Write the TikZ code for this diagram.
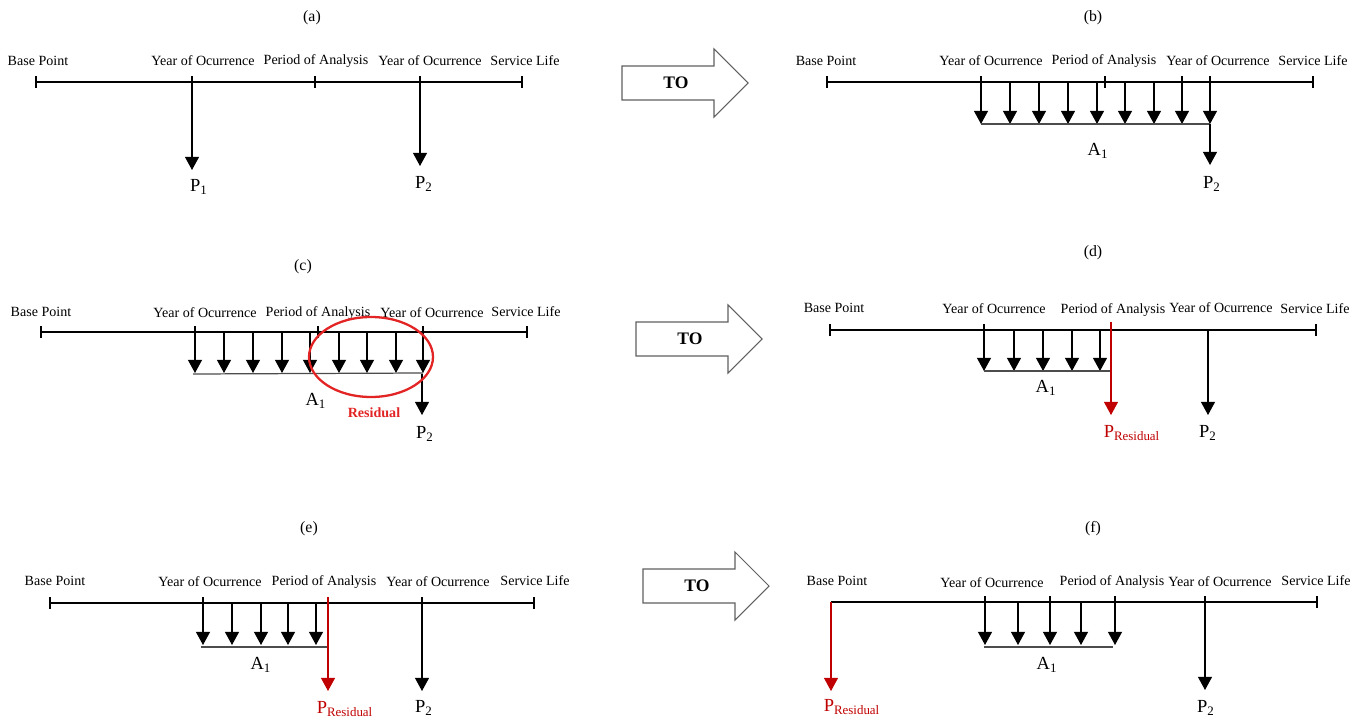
\documentclass[tikz,border=0pt]{standalone}
\usepackage{fontspec}
\setmainfont{Liberation Serif}
\usetikzlibrary{arrows.meta}
\definecolor{resred}{RGB}{192,0,0}
\definecolor{ringred}{RGB}{226,36,36}
\definecolor{blockgray}{RGB}{96,96,96}

% a downward cash-flow arrow between two named coordinates
\newcommand\dropflow[5][flow]{%
  \coordinate (#2s) at (#3,#4);
  \coordinate (#2t) at (#3,#5);
  \draw[#1] (#2s) -- (#2t);}
% a short tick across a time line
\newcommand\tickmark[3]{%
  \coordinate (#1u) at (#2,#3-6);
  \coordinate (#1d) at (#2,#3+6);
  \draw[axis] (#1u) -- (#1d);}
% the "TO" block arrow, left end (#1,#2)
\newcommand\toarrow[3]{%
  \draw[blockarrow] (#2,#3-17) -- (#2+92,#3-17) -- (#2+92,#3-34) -- (#2+126,#3)
    -- (#2+92,#3+34) -- (#2+92,#3+17) -- (#2,#3+17) -- cycle;
  \node[tolbl] (#1) at (#2+54,#3) {TO};}

\begin{document}
\begin{tikzpicture}[x=0.02cm,y=-0.02cm,
  lbl/.style={font=\fontsize{8}{9}\selectfont, inner sep=0pt},
  ttl/.style={font=\fontsize{9}{10}\selectfont, inner sep=0pt},
  pay/.style={font=\fontsize{10.5}{12}\selectfont, inner sep=0pt},
  respay/.style={pay, text=resred},
  tolbl/.style={font=\fontsize{10}{12}\selectfont\bfseries, inner sep=0pt},
  axis/.style={line width=0.6pt, draw=black},
  bar/.style={line width=0.7pt, draw=black!70},
  flow/.style={line width=0.6pt, draw=black, -{Triangle[width=8pt,length=7.5pt]}},
  resflow/.style={flow, draw=resred},
  blockarrow/.style={line width=0.6pt, draw=blockgray, fill=white, line join=miter},
  ring/.style={line width=1.3pt, draw=ringred},
  ringlbl/.style={font=\fontsize{8}{9}\selectfont\bfseries, text=ringred, inner sep=0pt}]
\useasboundingbox (0,0) rectangle (1359,720);

% ---------------- (a) ----------------
\node[ttl] (ta) at (312,18) {(a)};
\node[lbl] (a-bp) at (38,61) {Base Point};
\node[lbl] (a-y1) at (203,61) {Year of Ocurrence};
\node[lbl] (a-pa) at (316,61) {Period of Analysis};
\node[lbl] (a-y2) at (430,61) {Year of Ocurrence};
\node[lbl] (a-sl) at (525,61) {Service Life};
\coordinate (a-L) at (36,82);
\coordinate (a-R) at (522,82);
\draw[axis] (a-L) -- (a-R);
\tickmark{a-k1}{36}{82}
\tickmark{a-k2}{315}{82}
\tickmark{a-k3}{522}{82}
\dropflow{a-p1}{192}{76}{170}
\dropflow{a-p2}{420}{76}{166}
\node[pay] (a-P1) at (199,187) {P\textsubscript{1}};
\node[pay] (a-P2) at (424,184) {P\textsubscript{2}};

\toarrow{to1}{622}{83}

% ---------------- (b) ----------------
\node[ttl] (tb) at (1093,18) {(b)};
\node[lbl] (b-bp) at (826,61) {Base Point};
\node[lbl] (b-y1) at (991,61) {Year of Ocurrence};
\node[lbl] (b-pa) at (1104,61) {Period of Analysis};
\node[lbl] (b-y2) at (1218,61) {Year of Ocurrence};
\node[lbl] (b-sl) at (1313,61) {Service Life};
\coordinate (b-L) at (827,82);
\coordinate (b-R) at (1313,82);
\draw[axis] (b-L) -- (b-R);
\tickmark{b-k1}{827}{82}
\tickmark{b-k2}{1105}{82}
\tickmark{b-k3}{1313}{82}
\dropflow{b-f1}{981}{76}{124}
\dropflow{b-f2}{1010}{82}{124}
\dropflow{b-f3}{1039}{82}{124}
\dropflow{b-f4}{1068}{82}{124}
\dropflow{b-f5}{1097}{82}{124}
\dropflow{b-f6}{1125}{82}{124}
\dropflow{b-f7}{1154}{82}{124}
\dropflow{b-f8}{1182}{76}{124}
\dropflow{b-f9}{1210}{76}{124}
\draw[bar] (b-f1t) -- (b-f9t);
\dropflow{b-p2}{1210}{124}{165}
\node[pay] (b-A1) at (1098,151) {A\textsubscript{1}};
\node[pay] (b-P2) at (1212,184) {P\textsubscript{2}};

% ---------------- (c) ----------------
\node[ttl] (tc) at (303,267) {(c)};
\node[lbl] (c-bp) at (41,312) {Base Point};
\node[lbl] (c-y1) at (205,313) {Year of Ocurrence};
\node[lbl] (c-pa) at (318,313) {Period of Analysis};
\node[lbl] (c-y2) at (432,313) {Year of Ocurrence};
\node[lbl] (c-sl) at (526,312) {Service Life};
\coordinate (c-L) at (41,332);
\coordinate (c-R) at (527,332);
\draw[axis] (c-L) -- (c-R);
\tickmark{c-k1}{41}{332}
\tickmark{c-k2}{318}{332}
\tickmark{c-k3}{527}{332}
\dropflow{c-f1}{195}{326}{373}
\dropflow{c-f2}{224}{332}{373}
\dropflow{c-f3}{253}{332}{373}
\dropflow{c-f4}{282}{332}{373}
\dropflow{c-f5}{310}{332}{373}
\dropflow{c-f6}{339}{332}{373}
\dropflow{c-f7}{367}{332}{373}
\dropflow{c-f8}{396}{332}{373}
\dropflow{c-f9}{423}{326}{373}
\draw[bar] (193,374) -- (c-f9t);
\dropflow{c-p2}{422}{374}{415}
\draw[ring] (371,357) ellipse [x radius=62, y radius=40];
\node[ringlbl] (c-res) at (374,413) {Residual};
\node[pay] (c-A1) at (316,401) {A\textsubscript{1}};
\node[pay] (c-P2) at (425,434) {P\textsubscript{2}};

\toarrow{to2}{636}{339}

% ---------------- (d) ----------------
\node[ttl] (td) at (1093,253) {(d)};
\node[lbl] (d-bp) at (834,308) {Base Point};
\node[lbl] (d-y1) at (994,309) {Year of Ocurrence};
\node[lbl] (d-pa) at (1113,310) {Period of Analysis};
\node[lbl] (d-y2) at (1221,308) {Year of Ocurrence};
\node[lbl] (d-sl) at (1315,309) {Service Life};
\coordinate (d-L) at (830,330);
\coordinate (d-R) at (1316,330);
\draw[axis] (d-L) -- (d-R);
\tickmark{d-k1}{830}{330}
\tickmark{d-k2}{1316}{330}
\dropflow{d-f1}{984}{324}{371}
\dropflow{d-f2}{1014}{330}{371}
\dropflow{d-f3}{1043}{330}{371}
\dropflow{d-f4}{1072}{330}{371}
\dropflow{d-f5}{1100}{330}{371}
\draw[bar] (d-f1t) -- (1111,371);
\dropflow[resflow]{d-pr}{1111}{322}{415}
\dropflow{d-p2}{1208}{330}{415}
\node[pay] (d-A1) at (1046,388) {A\textsubscript{1}};
\node[respay] (d-PR) at (1132,433) {P\textsubscript{Residual}};
\node[pay] (d-P2) at (1208,433) {P\textsubscript{2}};

% ---------------- (e) ----------------
\node[ttl] (te) at (309,529) {(e)};
\node[lbl] (e-bp) at (55,581) {Base Point};
\node[lbl] (e-y1) at (210,582) {Year of Ocurrence};
\node[lbl] (e-pa) at (324,582) {Period of Analysis};
\node[lbl] (e-y2) at (438,582) {Year of Ocurrence};
\node[lbl] (e-sl) at (535,581) {Service Life};
\coordinate (e-L) at (50,603);
\coordinate (e-R) at (534,603);
\draw[axis] (e-L) -- (e-R);
\tickmark{e-k1}{50}{603}
\tickmark{e-k2}{534}{603}
\dropflow{e-f1}{203}{597}{645}
\dropflow{e-f2}{232}{603}{645}
\dropflow{e-f3}{261}{603}{645}
\dropflow{e-f4}{288}{603}{645}
\dropflow{e-f5}{316}{603}{645}
\draw[bar] (201,647) -- (328,647);
\dropflow[resflow]{e-pr}{328}{597}{691}
\dropflow{e-p2}{422}{597}{691}
\node[pay] (e-A1) at (261,665) {A\textsubscript{1}};
\node[respay] (e-PR) at (345,709) {P\textsubscript{Residual}};
\node[pay] (e-P2) at (424,708) {P\textsubscript{2}};

\toarrow{to3}{643}{586}

% ---------------- (f) ----------------
\node[ttl] (tf) at (1093,529) {(f)};
\node[lbl] (f-bp) at (837,581) {Base Point};
\node[lbl] (f-y1) at (992,583) {Year of Ocurrence};
\node[lbl] (f-pa) at (1112,582) {Period of Analysis};
\node[lbl] (f-y2) at (1220,582) {Year of Ocurrence};
\node[lbl] (f-sl) at (1316,581) {Service Life};
\coordinate (f-L) at (831,602);
\coordinate (f-R) at (1317,602);
\draw[axis] (f-L) -- (f-R);
\tickmark{f-k2}{1317}{602}
\dropflow{f-f1}{985}{596}{645}
\dropflow{f-f2}{1018}{602}{645}
\dropflow{f-f3}{1050}{596}{645}
\dropflow{f-f4}{1081}{602}{645}
\dropflow{f-f5}{1115}{596}{645}
\draw[bar] (984,647) -- (1113,647);
\dropflow[resflow]{f-pr}{831}{602}{691}
\dropflow{f-p2}{1205}{596}{690}
\node[pay] (f-A1) at (1047,665) {A\textsubscript{1}};
\node[respay] (f-PR) at (852,707) {P\textsubscript{Residual}};
\node[pay] (f-P2) at (1206,708) {P\textsubscript{2}};
\end{tikzpicture}
\end{document}
